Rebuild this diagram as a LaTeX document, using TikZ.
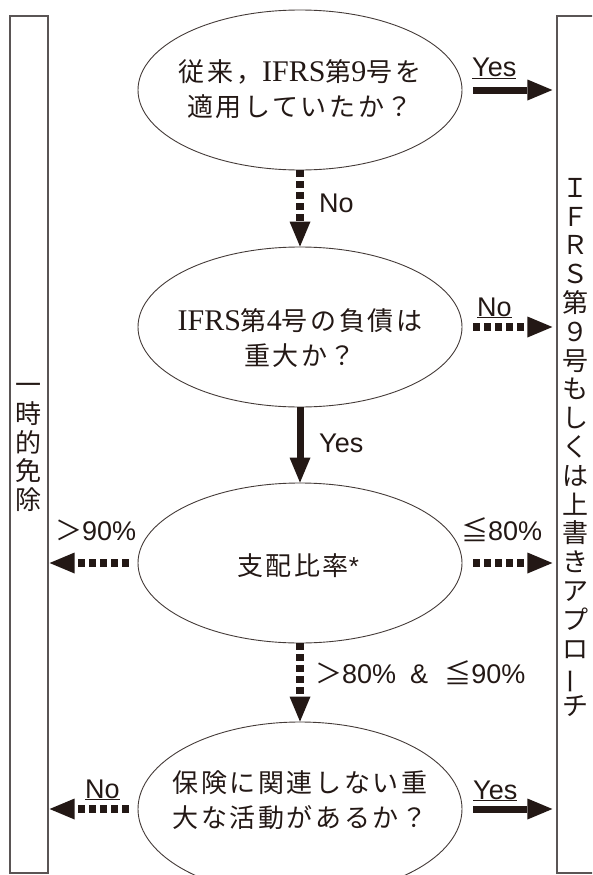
\documentclass[tikz,border=0pt]{standalone}
\usepackage{fontspec}
\usepackage{graphicx}
\setmainfont{Liberation Sans}
\newfontfamily\cjk[LetterSpace=10]{Noto Sans CJK JP}
\newfontfamily\cjkv{Noto Sans CJK JP}
\newfontfamily\lserif{Liberation Serif}
\newcommand\ltn[1]{{\lserif\fontsize{30}{35}\selectfont #1}}
\newcommand\ulab[1]{\setbox0\hbox{#1}\rlap{\rule[-2pt]{\wd0}{0.7pt}}\box0}
\usetikzlibrary{arrows.meta,shapes.geometric}
\definecolor{ink}{RGB}{35,24,21}
\definecolor{boxc}{RGB}{90,85,85}
\begin{document}
\begin{tikzpicture}[x=1pt,y=-1pt,
 ell/.style={ellipse,draw=ink!85,line width=0.9pt,minimum width=324pt,minimum height=160pt,inner sep=0pt},
 etext/.style={align=center,text=ink,inner sep=0pt,font=\cjk\fontsize{26}{35}\selectfont},
 sbox/.style={draw=boxc,line width=1.2pt,inner sep=0pt},
 vtext/.style={align=center,text=ink,inner sep=0pt,font=\cjkv\fontsize{26}{28.8}\selectfont},
 lbl/.style={text=ink,inner sep=0pt,font=\fontsize{27}{27}\selectfont},
 solidarrow/.style={draw=ink,line width=7pt,-{Triangle[length=25pt,width=21pt,line width=0pt]}},
 dasharrow/.style={draw=ink,line width=7.5pt,dash pattern=on 6.5pt off 4.5pt,-{Triangle[length=25pt,width=21pt,line width=0pt]}},
]
\useasboundingbox (0,0) rectangle (592,875);
\clip (0,0) rectangle (592,875);
% side boxes
\node[sbox,minimum width=38pt,minimum height=857pt] (L) at (29,444.5) {};
\node[sbox,minimum width=60pt,minimum height=857pt] (R) at (587,444.5) {};
\node[vtext] (Lt) at (29,447.5) {一\\時\\的\\免\\除};
\node[vtext] (Rt) at (575,447.5) {Ｉ\\Ｆ\\Ｒ\\Ｓ\\第\\９\\号\\も\\し\\く\\は\\上\\書\\き\\ア\\プ\\ロ\\\rotatebox[origin=c]{90}{ー}\\チ};
% ellipses
\node[ell] (e1) at (300,90) {};
\node[ell] (e2) at (300,327) {};
\node[ell] (e3) at (300,563) {};
\node[ell,minimum height=174pt] (e4) at (300,809) {};
\node[etext] (t1) at (300,89) {従来，\ltn{IFRS}第\ltn{9}号を\\適用していたか？};
\node[etext] (t2) at (300,338) {\ltn{IFRS}第\ltn{4}号の負債は\\重大か？};
\node[etext] (t3) at (298,566) {支配比率{\rmfamily *}};
\node[etext] (t4) at (300,800) {保険に関連しない重\\大な活動があるか？};
% vertical connectors
\draw[dasharrow] (e1.south) -- (e2.north);
\draw[solidarrow] (e2.south) -- (e3.north);
\draw[dasharrow] (e3.south) -- (e4.north);
% horizontal connectors
\draw[solidarrow,shorten <=11pt,shorten >=4pt] (e1.east) -- (e1.east -| R.west);
\draw[dasharrow,shorten <=11pt,shorten >=4pt] (e2.east) -- (e2.east -| R.west);
\draw[dasharrow,shorten <=11pt,shorten >=4pt] (e3.east) -- (e3.east -| R.west);
\draw[dasharrow,shorten <=9pt,shorten >=1pt] (e3.west) -- (e3.west -| L.east);
\draw[dasharrow,shorten <=9pt,shorten >=1pt] (e4.west) -- (e4.west -| L.east);
\draw[solidarrow,shorten <=11pt,shorten >=4pt] (e4.east) -- (e4.east -| R.west);
% labels
\node[lbl,anchor=base west] (yes1) at (472,77) {\ulab{Yes}};
\node[lbl,anchor=base west] (no1) at (319,212) {No};
\node[lbl,anchor=base west] (no2) at (477,316) {\ulab{No}};
\node[lbl,anchor=base west] (yes2) at (319,452) {Yes};
\node[lbl,anchor=base west] (gt90) at (55,540) {{\cjkv ＞}90\%};
\node[lbl,anchor=base west] (le80) at (461,540) {{\cjkv ≦}80\%};
\node[lbl,anchor=base west] (mid) at (315,683) {{\cjkv ＞}80\%\hspace{14pt}\&\hspace{16pt}{\cjkv ≦}90\%};
\node[lbl,anchor=base west] (no3) at (85,798) {\ulab{No}};
\node[lbl,anchor=base west] (yes3) at (473,799) {\ulab{Yes}};
\end{tikzpicture}
\end{document}
